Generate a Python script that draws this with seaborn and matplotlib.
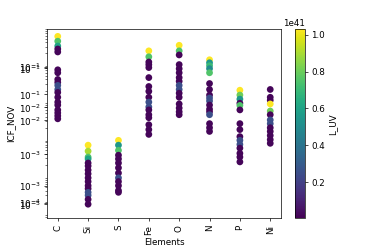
import numpy as np
import pandas as pd
import matplotlib
matplotlib.use("Agg")
import matplotlib.pyplot as plt
import seaborn as sns
from matplotlib.ticker import FixedLocator, FixedFormatter, NullFormatter

elements = ["C", "Si", "S", "Fe", "O", "N", "P", "Ni"]

log_icf = {
    "C":  [-0.24, -0.37, -0.50, -0.58, -0.66, -1.14, -1.22, -1.40, -1.48, -1.56,
           -1.67, -1.75, -1.88, -2.01, -2.09, -2.22, -2.30, -2.38, -2.46],
    "Si": [-3.17, -3.33, -3.49, -3.54, -3.65, -3.73, -3.84, -3.94, -4.05, -4.15,
           -4.26, -4.34, -4.44, -4.52, -4.63, -4.76],
    "S":  [-3.04, -3.17, -3.31, -3.44, -3.54, -3.65, -3.78, -3.92, -4.05, -4.15,
           -4.26, -4.39, -4.44],
    "Fe": [-0.63, -0.79, -0.93, -1.00, -1.08, -1.35, -1.59, -1.72, -1.88, -2.01,
           -2.14, -2.22, -2.35, -2.43, -2.62, -2.75, -2.88],
    "O":  [-0.48, -0.63, -0.74, -1.00, -1.11, -1.22, -1.35, -1.45, -1.56, -1.67,
           -1.77, -1.88, -2.06, -2.17, -2.27, -2.35],
    "N":  [-0.87, -0.95, -1.03, -1.11, -1.22, -1.51, -1.67, -1.82, -1.90, -1.98,
           -2.09, -2.20, -2.27, -2.35, -2.59, -2.70, -2.80],
    "P":  [-1.69, -1.82, -1.93, -2.04, -2.10, -2.22, -2.59, -2.75, -2.94, -3.04,
           -3.15, -3.25, -3.39, -3.49, -3.62],
    "Ni": [-1.67, -1.88, -1.96, -2.06, -2.25, -2.35, -2.49, -2.59, -2.70, -2.80,
           -2.91, -3.02, -3.12],
}

l_uv = {
    "C":  [1.03, 0.75, 0.6, 0.02, 0.02, 0.02, 0.02, 0.02, 0.02, 0.25,
           0.25, 0.02, 0.02, 0.02, 0.02, 0.02, 0.02, 0.02, 0.02],
    "Si": [1.03, 0.9, 0.75, 0.6, 0.02, 0.02, 0.02, 0.02, 0.02, 0.02,
           0.02, 0.02, 0.25, 0.25, 0.02, 0.02],
    "S":  [1.03, 0.55, 0.75, 0.02, 0.02, 0.02, 0.02, 0.02, 0.25, 0.02,
           0.02, 0.02, 0.02],
    "Fe": [1.03, 0.75, 0.02, 0.02, 0.02, 0.02, 0.02, 0.02, 0.02, 0.25,
           0.25, 0.02, 0.02, 0.02, 0.02, 0.02, 0.02],
    "O":  [1.03, 0.75, 0.02, 0.02, 0.02, 0.02, 0.02, 0.02, 0.25, 0.25,
           0.02, 0.02, 0.02, 0.02, 0.02, 0.02],
    "N":  [1.03, 0.55, 0.7, 0.5, 0.75, 0.02, 0.02, 0.02, 0.25, 0.25,
           0.02, 0.02, 0.02, 0.25, 0.02, 0.02, 0.02],
    "P":  [1.03, 0.8, 0.55, 0.02, 0.75, 0.02, 0.02, 0.02, 0.02, 0.25,
           0.25, 0.02, 0.02, 0.02, 0.02],
    "Ni": [0.02, 0.02, 0.02, 1.03, 0.8, 0.02, 0.25, 0.25, 0.02, 0.02,
           0.02, 0.02, 0.02],
}

# the odd, overlapping y tick labels of the original
ytick_exp = [-1.06, -1.10, -1.80, -2.15, -2.50, -3.41, -4.26, -4.72, -4.76]
ytick_labels = ["$10^{-1}$", "$10^{-1}$", "$10^{-1}$", "$10^{-2}$", "$10^{-2}$",
                "$10^{-3}$", "$10^{-3}$", "$10^{-4}$", "$10^{-5}$"]

rows = []
for el in elements:
    for v, l in zip(log_icf[el], l_uv[el]):
        rows.append({"Elements": el, "ICF": 10 ** v, "L_UV": l * 1e41})
df = pd.DataFrame(rows)

vmin, vmax = 0.004e41, 1.033e41
norm = plt.Normalize(vmin, vmax)

fig, ax = plt.subplots(figsize=(6, 4))
fig.subplots_adjust(left=0.125, right=0.9, top=0.885, bottom=0.13)

sns.scatterplot(data=df, x="Elements", y="ICF", hue="L_UV", palette="viridis",
                hue_norm=norm, legend=False, s=60, edgecolor="none", ax=ax)

ax.set_yscale("log")
ax.set_ylim(10 ** -5.14, 10 ** -0.03)
ax.set_xlim(-0.35, 7.35)
ax.yaxis.set_major_locator(FixedLocator([10 ** e for e in ytick_exp]))
ax.yaxis.set_major_formatter(FixedFormatter(ytick_labels))
ax.yaxis.set_minor_formatter(NullFormatter())
ax.tick_params(axis="x", rotation=90)
ax.set_ylabel("ICF_NOV")
ax.set_xlabel("Elements")

sm = plt.cm.ScalarMappable(norm=norm, cmap="viridis")
fig.colorbar(sm, ax=ax, label="L_UV")

fig.savefig("out.png", dpi=377 / 6)
